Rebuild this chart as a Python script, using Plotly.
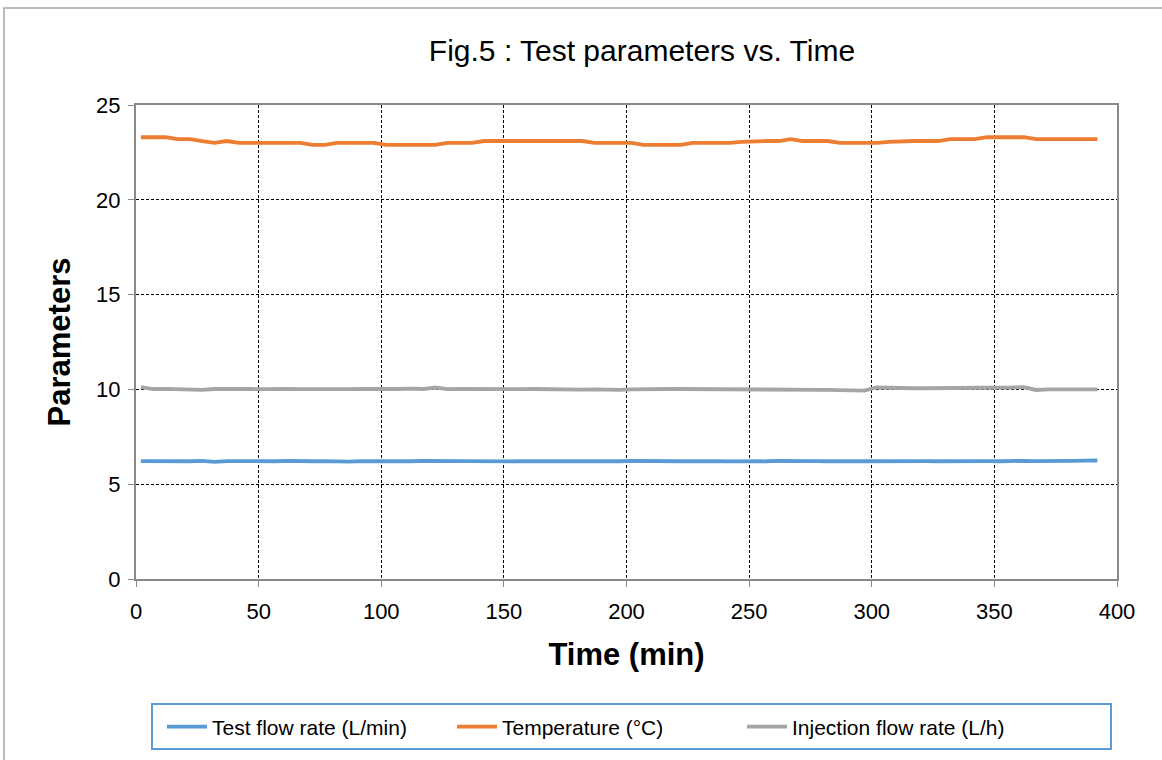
import plotly.graph_objects as go

time_min = [2, 7, 12, 17, 22, 27, 32, 37, 42, 47,
            52, 57, 62, 67, 72, 77, 82, 87, 92, 97,
            102, 107, 112, 117, 122, 127, 132, 137, 142, 147,
            152, 157, 162, 167, 172, 177, 182, 187, 192, 197,
            202, 207, 212, 217, 222, 227, 232, 237, 242, 247,
            252, 257, 262, 267, 272, 277, 282, 287, 292, 297,
            302, 307, 312, 317, 322, 327, 332, 337, 342, 347,
            352, 357, 362, 367, 372, 377, 382, 387, 392]

test_flow = [6.22, 6.21, 6.20, 6.22, 6.21, 6.23, 6.18, 6.22, 6.21, 6.20,
             6.22, 6.21, 6.23, 6.20, 6.21, 6.22, 6.20, 6.19, 6.22, 6.21,
             6.20, 6.22, 6.21, 6.23, 6.22, 6.20, 6.21, 6.23, 6.22, 6.21,
             6.20, 6.22, 6.21, 6.20, 6.19, 6.22, 6.21, 6.22, 6.20, 6.21,
             6.23, 6.22, 6.21, 6.19, 6.21, 6.22, 6.23, 6.21, 6.20, 6.19,
             6.22, 6.21, 6.23, 6.21, 6.20, 6.22, 6.21, 6.23, 6.22, 6.21,
             6.22, 6.21, 6.23, 6.24, 6.22, 6.21, 6.22, 6.23, 6.24, 6.22,
             6.21, 6.24, 6.23, 6.22, 6.21, 6.22, 6.23, 6.24, 6.25]

temperature = [23.3, 23.3, 23.3, 23.2, 23.2, 23.1, 23.0, 23.1, 23.0, 23.0,
               23.0, 23.0, 23.0, 23.0, 22.9, 22.9, 23.0, 23.0, 23.0, 23.0,
               22.9, 22.9, 22.9, 22.9, 22.9, 23.0, 23.0, 23.0, 23.1, 23.1,
               23.05, 23.1, 23.1, 23.1, 23.1, 23.1, 23.1, 23.0, 23.0, 23.0,
               23.0, 22.9, 22.9, 22.9, 22.9, 23.0, 23.0, 23.0, 23.0, 23.05,
               23.1, 23.1, 23.1, 23.2, 23.1, 23.1, 23.1, 23.0, 23.0, 23.0,
               23.0, 23.05, 23.1, 23.1, 23.1, 23.1, 23.2, 23.2, 23.2, 23.3,
               23.3, 23.3, 23.3, 23.2, 23.2, 23.2, 23.2, 23.2, 23.2]

injection_flow = [10.12, 10.02, 10.03, 10.01, 10.02, 9.98, 10.02, 10.03, 10.01, 10.02,
                  10.01, 10.03, 10.02, 10.01, 10.00, 10.01, 10.02, 10.01, 10.02, 10.01,
                  10.03, 10.02, 10.04, 10.02, 10.10, 10.01, 10.02, 10.01, 10.02, 10.01,
                  10.02, 10.01, 10.02, 10.01, 10.00, 9.97, 9.99, 10.00, 9.98, 9.98,
                  10.00, 10.02, 10.04, 10.02, 10.02, 10.02, 10.02, 10.01, 10.02, 10.02,
                  10.02, 10.02, 10.01, 10.01, 9.99, 9.98, 9.97, 9.96, 9.95, 9.94,
                  10.10, 10.07, 10.08, 10.06, 10.06, 10.06, 10.07, 10.07, 10.08, 10.08,
                  10.09, 10.10, 10.12, 9.97, 10.00, 10.00, 10.00, 10.00, 10.00]

series_names = ["Test flow rate (L/min)", "Temperature (°C)", "Injection flow rate (L/h)"]
series_colors = ["#5B9BD5", "#ED7D31", "#A5A5A5"]
x_ticks = [0, 50, 100, 150, 200, 250, 300, 350, 400]
y_ticks = [0, 5, 10, 15, 20, 25]

FONT = "Liberation Sans, Arial, sans-serif"

fig = go.Figure()
for name, vals, col in zip(series_names, [test_flow, temperature, injection_flow], series_colors):
    fig.add_trace(go.Scatter(x=time_min, y=vals, mode="lines", name=name,
                             line=dict(color=col, width=3.8)))

W, H = 1162, 760
L, R, T, B = 136, 1117, 105, 579
pw, ph = R - L, B - T

def px2x(p):
    return (p - L) / pw

def px2y(p):
    return (B - p) / ph

fig.update_layout(
    width=W, height=H,
    margin=dict(l=L, r=W - R, t=T, b=H - B, pad=0),
    paper_bgcolor="white", plot_bgcolor="white",
    font=dict(family=FONT, color="black", size=22),
    title=dict(text="Fig.5 : Test parameters vs. Time", x=642 / W, xanchor="center",
               y=1 - 50 / H, yanchor="middle", font=dict(size=30, family=FONT)),
    showlegend=True,
    legend=dict(orientation="h", x=px2x(162), xanchor="left", y=px2y(727), yanchor="middle",
                bgcolor="rgba(0,0,0,0)", borderwidth=0, font=dict(size=21, family=FONT),
                itemwidth=40, entrywidth=235, tracegroupgap=0),
    xaxis=dict(range=[0, 400], tickvals=x_ticks, ticks="outside", ticklen=6, tickcolor="#898989",
               showline=True, linecolor="#898989", linewidth=2, mirror=True,
               showgrid=True, gridcolor="black", gridwidth=1, griddash="3px,2px",
               zeroline=False, tickfont=dict(size=22), ticklabelstandoff=6,
               title=dict(text="<b>Time (min)</b>", font=dict(size=31), standoff=20)),
    yaxis=dict(range=[0, 25], tickvals=y_ticks, ticks="outside", ticklen=6, tickcolor="#898989",
               showline=True, linecolor="#898989", linewidth=2, mirror=True,
               showgrid=True, gridcolor="black", gridwidth=1, griddash="3px,2px",
               zeroline=False, tickfont=dict(size=22), ticklabelstandoff=3,
               title=dict(text="<b>Parameters</b>", font=dict(size=31), standoff=16)),
    shapes=[
        dict(type="rect", xref="paper", yref="paper",
             x0=px2x(152), x1=px2x(1111), y0=px2y(749), y1=px2y(704),
             line=dict(color="#5B9BD5", width=2), fillcolor="rgba(0,0,0,0)", layer="below"),
        dict(type="rect", xref="paper", yref="paper",
             x0=px2x(4), x1=px2x(1175), y0=px2y(775), y1=px2y(8),
             line=dict(color="#A6A6A6", width=1.5), fillcolor="rgba(0,0,0,0)", layer="below"),
    ],
)

fig.write_html("out.html", config={"displayModeBar": False},
               post_script="document.body.style.margin='0';document.body.style.overflow='hidden';")
